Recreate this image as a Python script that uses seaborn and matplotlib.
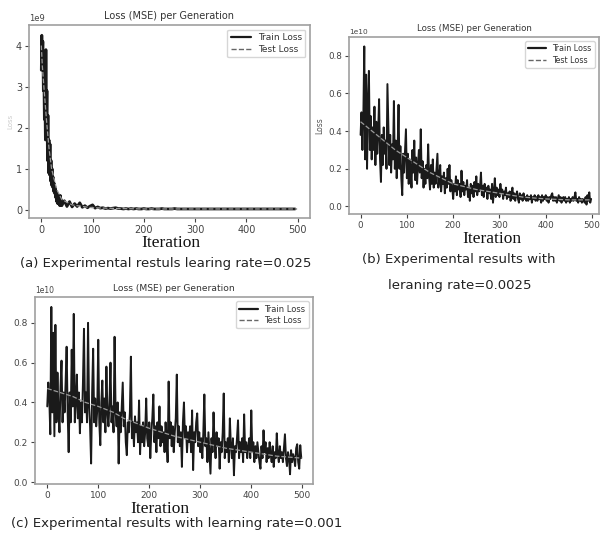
import numpy as np
import pandas as pd
import matplotlib
matplotlib.use("Agg")
import matplotlib.pyplot as plt
import seaborn as sns

# ---------------- data ----------------
# panel (a): learning rate 0.025, loss in units of 1e9
iters_a = list(range(0, 40)) + list(range(40, 500, 5))
train_a = [3.4, 4.25, 3.6, 4.1, 2.9, 3.3, 2.2, 2.8, 1.7, 3.9,
           1.9, 2.9, 1.2, 2.3, 0.9, 1.7, 0.85, 1.6, 0.7, 1.2,
           0.6, 1.0, 0.55, 0.8, 0.45, 0.65, 0.4, 0.55, 0.3, 0.45,
           0.2, 0.4, 0.15, 0.35, 0.15, 0.3, 0.1, 0.35, 0.12, 0.25,
           0.1, 0.22, 0.08, 0.2, 0.07, 0.15, 0.08, 0.17, 0.06, 0.1,
           0.05, 0.09, 0.12, 0.04, 0.07, 0.04, 0.05, 0.03, 0.04, 0.03,
           0.04, 0.05, 0.03, 0.03, 0.02, 0.03, 0.02, 0.03, 0.02, 0.03,
           0.02, 0.02, 0.03, 0.02, 0.02, 0.03, 0.02, 0.02, 0.02, 0.03,
           0.02, 0.02, 0.02, 0.02, 0.03, 0.02, 0.02, 0.02, 0.02, 0.02,
           0.02, 0.02, 0.02, 0.02, 0.02, 0.02, 0.02, 0.02, 0.02, 0.02,
           0.02, 0.02, 0.02, 0.02, 0.02, 0.02, 0.02, 0.02, 0.02, 0.02,
           0.02, 0.02, 0.02, 0.02, 0.02, 0.02, 0.02, 0.02, 0.02, 0.02,
           0.02, 0.02, 0.02, 0.02, 0.02, 0.02, 0.02, 0.02, 0.02, 0.02,
           0.02, 0.02]
test_iters_a = [0, 2, 5, 10, 15, 20, 30, 40, 60, 80, 100, 150, 200, 300, 400, 499]
test_a = [4.0, 3.5, 3.0, 2.2, 1.5, 1.0, 0.5, 0.25, 0.12, 0.08, 0.05, 0.03, 0.02, 0.02, 0.02, 0.02]

# panels (b) and (c): loss in units of 1e10, every 2 iterations
iters_bc = list(range(0, 500, 2))
train_b = [0.38, 0.50, 0.30, 0.48, 0.85, 0.25, 0.70, 0.20, 0.55, 0.72,
           0.30, 0.48, 0.25, 0.42, 0.30, 0.53, 0.22, 0.45, 0.28, 0.40,
           0.57, 0.25, 0.13, 0.38, 0.22, 0.42, 0.28, 0.35, 0.20, 0.65,
           0.43, 0.22, 0.38, 0.18, 0.33, 0.25, 0.56, 0.20, 0.35, 0.15,
           0.30, 0.54, 0.20, 0.32, 0.15, 0.06, 0.28, 0.18, 0.30, 0.41,
           0.15, 0.28, 0.12, 0.25, 0.20, 0.10, 0.30, 0.18, 0.35, 0.14,
           0.26, 0.12, 0.22, 0.30, 0.18, 0.41, 0.15, 0.24, 0.10, 0.20,
           0.12, 0.22, 0.15, 0.33, 0.16, 0.09, 0.22, 0.12, 0.25, 0.10,
           0.18, 0.12, 0.20, 0.28, 0.10, 0.15, 0.22, 0.08, 0.16, 0.12,
           0.18, 0.07, 0.15, 0.10, 0.20, 0.12, 0.22, 0.08, 0.14, 0.10,
           0.04, 0.12, 0.08, 0.16, 0.06, 0.14, 0.09, 0.12, 0.05, 0.19,
           0.08, 0.13, 0.06, 0.11, 0.09, 0.14, 0.05, 0.10, 0.03, 0.12,
           0.07, 0.11, 0.05, 0.13, 0.08, 0.16, 0.06, 0.12, 0.08, 0.10,
           0.18, 0.06, 0.11, 0.05, 0.12, 0.08, 0.10, 0.04, 0.11, 0.07,
           0.09, 0.04, 0.12, 0.02, 0.08, 0.15, 0.05, 0.10, 0.06, 0.09,
           0.05, 0.12, 0.07, 0.09, 0.04, 0.08, 0.06, 0.10, 0.04, 0.07,
           0.05, 0.08, 0.03, 0.07, 0.10, 0.04, 0.07, 0.03, 0.06, 0.08,
           0.04, 0.02, 0.07, 0.04, 0.06, 0.03, 0.07, 0.04, 0.05, 0.03,
           0.06, 0.03, 0.05, 0.04, 0.06, 0.02, 0.05, 0.04, 0.06, 0.03,
           0.05, 0.03, 0.06, 0.04, 0.05, 0.02, 0.06, 0.03, 0.05, 0.04,
           0.06, 0.03, 0.05, 0.02, 0.05, 0.04, 0.06, 0.07, 0.03, 0.05,
           0.03, 0.05, 0.02, 0.04, 0.06, 0.03, 0.05, 0.02, 0.04, 0.05,
           0.03, 0.05, 0.02, 0.04, 0.03, 0.05, 0.02, 0.04, 0.03, 0.05,
           0.03, 0.05, 0.075, 0.03, 0.04, 0.02, 0.05, 0.03, 0.04, 0.02,
           0.04, 0.03, 0.02, 0.05, 0.01, 0.06, 0.03, 0.075, 0.02, 0.04]
test_iters_b = [0, 25, 50, 75, 100, 150, 200, 250, 300, 350, 400, 450, 499]
test_b = [0.45, 0.40, 0.35, 0.30, 0.26, 0.18, 0.12, 0.09, 0.07, 0.05, 0.04, 0.035, 0.035]

train_c = [0.38, 0.50, 0.42, 0.24, 0.88, 0.35, 0.75, 0.23, 0.79, 0.30,
           0.55, 0.35, 0.25, 0.48, 0.61, 0.30, 0.45, 0.35, 0.50, 0.68,
           0.35, 0.15, 0.45, 0.30, 0.665, 0.38, 0.845, 0.30, 0.40, 0.54,
           0.32, 0.45, 0.245, 0.40, 0.30, 0.50, 0.77, 0.35, 0.45, 0.30,
           0.80, 0.38, 0.28, 0.093, 0.45, 0.67, 0.30, 0.42, 0.28, 0.36,
           0.715, 0.30, 0.185, 0.40, 0.51, 0.30, 0.42, 0.25, 0.58, 0.35,
           0.28, 0.40, 0.60, 0.30, 0.38, 0.25, 0.73, 0.35, 0.28, 0.40,
           0.093, 0.35, 0.25, 0.38, 0.50, 0.28, 0.35, 0.20, 0.135, 0.30,
           0.25, 0.35, 0.63, 0.22, 0.30, 0.18, 0.33, 0.25, 0.30, 0.20,
           0.41, 0.14, 0.28, 0.20, 0.30, 0.18, 0.25, 0.42, 0.22, 0.18,
           0.30, 0.12, 0.25, 0.32, 0.44, 0.20, 0.28, 0.15, 0.30, 0.22,
           0.38, 0.18, 0.28, 0.20, 0.25, 0.15, 0.30, 0.22, 0.10, 0.505,
           0.22, 0.30, 0.18, 0.28, 0.15, 0.25, 0.32, 0.54, 0.20, 0.28,
           0.18, 0.25, 0.076, 0.30, 0.40, 0.22, 0.28, 0.15, 0.25, 0.20,
           0.28, 0.15, 0.36, 0.06, 0.25, 0.20, 0.30, 0.345, 0.18, 0.25,
           0.15, 0.22, 0.12, 0.25, 0.44, 0.18, 0.22, 0.10, 0.25, 0.15,
           0.042, 0.22, 0.15, 0.35, 0.20, 0.12, 0.25, 0.18, 0.22, 0.067,
           0.20, 0.15, 0.25, 0.445, 0.12, 0.20, 0.15, 0.22, 0.10, 0.32,
           0.18, 0.12, 0.22, 0.034, 0.18, 0.15, 0.22, 0.31, 0.12, 0.20,
           0.15, 0.22, 0.10, 0.34, 0.15, 0.20, 0.12, 0.18, 0.22, 0.12,
           0.36, 0.15, 0.20, 0.10, 0.18, 0.12, 0.20, 0.15, 0.10, 0.067,
           0.18, 0.12, 0.26, 0.15, 0.20, 0.10, 0.17, 0.12, 0.20, 0.14,
           0.10, 0.18, 0.076, 0.15, 0.12, 0.245, 0.14, 0.10, 0.18, 0.12,
           0.15, 0.10, 0.17, 0.24, 0.12, 0.08, 0.15, 0.12, 0.039, 0.16,
           0.10, 0.14, 0.12, 0.08, 0.17, 0.19, 0.10, 0.067, 0.185, 0.12]
test_iters_c = [0, 25, 50, 75, 100, 130, 150, 200, 250, 300, 350, 400, 450, 499]
test_c = [0.47, 0.45, 0.43, 0.40, 0.38, 0.35, 0.32, 0.27, 0.23, 0.20, 0.17, 0.15, 0.13, 0.12]

title_text = "Loss (MSE) per Generation"
x_ticks = [0, 100, 200, 300, 400, 500]
y_ticks_a = [0, 1, 2, 3, 4]
y_ticks_bc = [0.0, 0.2, 0.4, 0.6, 0.8]
captions = ["(a) Experimental restuls learing rate=0.025",
            "(b) Experimental results with",
            "leraning rate=0.0025",
            "(c) Experimental results with learning rate=0.001"]

# ---------------- style ----------------
sns.set_style("white")
plt.rcParams["font.family"] = ["DejaVu Sans"]

W, H = 608, 535
fig = plt.figure(figsize=(W / 100, H / 100), dpi=100)


def px_axes(left, top, right, bottom):
    return fig.add_axes([left / W, 1 - bottom / H, (right - left) / W, (bottom - top) / H])


def panel(ax, x, y, tx, ty, ylim, xlim, yticks, yfmt, offset, fs_title, fs_tick, fs_leg, lw):
    df = pd.DataFrame({"it": x, "loss": y})
    dt = pd.DataFrame({"it": tx, "loss": ty})
    sns.lineplot(data=df, x="it", y="loss", ax=ax, color="#1a1a1a", lw=lw,
                 estimator=None, label="Train Loss")
    sns.lineplot(data=dt, x="it", y="loss", ax=ax, color="#9a9a9a", lw=0.9,
                 linestyle="--", estimator=None, label="Test Loss")
    ax.set_xlim(*xlim)
    ax.set_ylim(*ylim)
    ax.set_xticks(x_ticks)
    ax.set_yticks(yticks)
    ax.set_yticklabels([yfmt.format(v) for v in yticks])
    ax.set_xlabel("")
    ax.set_ylabel("")
    ax.tick_params(axis="both", labelsize=fs_tick, colors="#444444", length=3,
                   width=0.8, direction="out", bottom=True, left=True, pad=2)
    for s in ax.spines.values():
        s.set_color("#a0a0a0")
        s.set_linewidth(1.2)
    ax.set_title(title_text, fontsize=fs_title, color="#333333", pad=4)
    ax.text(0.0, 1.01, offset, transform=ax.transAxes, fontsize=fs_tick - 1,
            color="#444444", ha="left", va="bottom")
    leg = ax.legend(loc="upper right", fontsize=fs_leg, frameon=True, fancybox=True,
                    handlelength=2.2, borderpad=0.4, labelspacing=0.3)
    leg.get_frame().set_edgecolor("#cccccc")
    for t in leg.get_texts():
        t.set_color("#333333")
    handles = leg.get_lines()
    handles[0].set_linewidth(1.6)
    handles[1].set_linewidth(1.0)
    handles[1].set_color("#666666")


ax_a = px_axes(29, 25, 310, 218)
panel(ax_a, iters_a, train_a, test_iters_a, test_a, (-0.2, 4.5), (-24, 524),
      y_ticks_a, "{:.0f}", "1e9", 7, 7, 6.5, 2.0)
ax_a.set_ylabel("Loss", fontsize=5, color="#cccccc")
ax_a.yaxis.set_label_coords(-0.055, 0.5)

ax_b = px_axes(349, 37, 599, 214)
panel(ax_b, iters_bc, train_b, test_iters_b, test_b, (-0.04, 0.9), (-25, 515),
      y_ticks_bc, "{:.1f}", "1e10", 6.2, 6.3, 5.8, 1.4)
ax_b.set_ylabel("Loss", fontsize=5.5, color="#555555", labelpad=3)

ax_c = px_axes(35, 297, 313, 484)
panel(ax_c, iters_bc, train_c, test_iters_c, test_c, (-0.01, 0.93), (-24, 521),
      y_ticks_bc, "{:.1f}", "1e10", 6.6, 6.5, 6.0, 1.4)

serif = ["Liberation Serif", "DejaVu Serif"]
fig.text(171 / W, 1 - 243 / H, "Iteration", family=serif, fontsize=12.5,
         ha="center", va="center", color="#111111")
fig.text(492 / W, 1 - 239 / H, "Iteration", family=serif, fontsize=12.5,
         ha="center", va="center", color="#111111")
fig.text(160 / W, 1 - 509 / H, "Iteration", family=serif, fontsize=12.5,
         ha="center", va="center", color="#111111")

fig.text(166 / W, 1 - 264 / H, captions[0], fontsize=9.5, ha="center", va="center", color="#222222")
fig.text(459 / W, 1 - 259 / H, captions[1], fontsize=9.5, ha="center", va="center", color="#222222")
fig.text(460 / W, 1 - 286 / H, captions[2], fontsize=9.5, ha="center", va="center", color="#222222")
fig.text(177 / W, 1 - 523 / H, captions[3], fontsize=9.5, ha="center", va="center", color="#222222")

fig.savefig("out.png", dpi=100)
